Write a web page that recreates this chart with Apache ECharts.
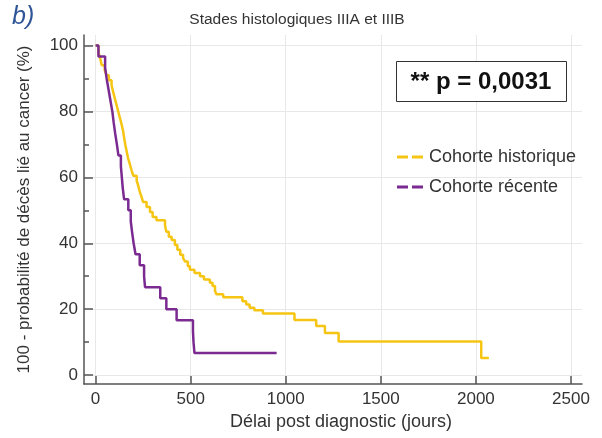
<!DOCTYPE html>
<html><head><meta charset="utf-8">
<script src="https://cdn.jsdelivr.net/npm/echarts@6/dist/echarts.min.js"></script>
<style>html,body{margin:0;padding:0;background:#fff}#c{width:602px;height:438px}</style>
</head><body><div id="c"></div>
<script>
const chartTitle = 'Stades histologiques IIIA et IIIB';
const xName = 'Délai post diagnostic (jours)';
const yName = '100 - probabilité de décès lié au cancer (%)';
const xTicks = [0, 500, 1000, 1500, 2000, 2500];
const yTicks = [0, 20, 40, 60, 80, 100];
const yMinorTicks = [10, 30, 50, 70, 90];
const seriesNames = ['Cohorte historique', 'Cohorte récente'];
const pText = '** p = 0,0031';
// [jours, survie %] — value after each drop
const historique = [[0,100],[15,98],[25,96],[32,94],[48,92.5],[58,91],[70,89.5],[84,88],[92,86],[101,84],[110,82],[119,80],[128,78],[137,76],[145,74],[150,72],[156,70],[163,68],[170,66],[180,64],[190,62],[198,60.5],[216,59],[224,57.5],[233,55.5],[242,54],[250,52.5],[268,51],[286,49.5],[300,48],[320,47],[365,45.5],[372,43.5],[385,42],[400,41],[417,39.5],[430,38],[445,36.5],[460,35.5],[470,34.5],[485,33],[496,32],[520,31],[549,30],[570,29],[601,28],[615,27],[628,25.5],[636,24.5],[671,23.6],[772,22.4],[792,21.4],[810,20.4],[835,19.7],[880,18.7],[1046,16.7],[1160,14.9],[1206,12.8],[1278,10.2],[2028,5.2],[2068,5.2]];
const recente = [[0,100],[15,96.67],[50,93.33],[58,90],[68,86.67],[78,83.33],[88,80],[95,76.67],[103,73.33],[112,70],[120,66.67],[133,63.33],[138,60],[143,56.67],[150,53.33],[172,50],[185,46.67],[192,43.33],[200,40],[210,36.67],[232,33.33],[255,30],[260,26.67],[340,23.33],[372,20],[426,16.67],[512,13.33],[515,10],[520,6.67],[952,6.67]];

const colors = ['#f6c514', '#7a2a90'];
const font = 'Liberation Sans, Arial, sans-serif';
const chart = echarts.init(document.getElementById('c'), null, {renderer:'canvas'});
chart.setOption({
  animation: false,
  color: colors,
  title: {text: chartTitle, left: 297, top: 12, textAlign: 'center', padding: 0,
    textStyle: {fontFamily: font, fontSize: 15.5, fontWeight: 'normal', color: '#333'}},
  grid: {left: 84, right: 20, top: 35, bottom: 54},
  legend: {
    left: 397, top: 147, orient: 'vertical', itemGap: 10, padding: 0,
    itemWidth: 28, itemHeight: 3,
    icon: 'path://M0,0H11V3H0Z M15,0H26V3H15Z',
    data: seriesNames,
    textStyle: {fontFamily: font, fontSize: 18, color: '#333', lineHeight: 20}
  },
  xAxis: {
    type: 'value', min: -61, max: 2558,
    name: xName, nameLocation: 'middle', nameGap: 22,
    nameTextStyle: {fontFamily: font, fontSize: 18, color: '#333', padding: [0, 0, 0, 16]},
    axisLine: {onZero: false, lineStyle: {color: '#555', width: 1.5}},
    axisTick: {inside: true, length: 8, customValues: xTicks, lineStyle: {color: '#555', width: 1.5}},
    axisLabel: {customValues: xTicks, formatter: v => String(v), fontFamily: font, fontSize: 17, color: '#333', margin: 7},
    splitLine: {show: true, lineStyle: {color: '#e8e8e8', width: 1}}
  },
  yAxis: [{
    type: 'value', min: -2.7, max: 103.2, position: 'left',
    name: yName, nameLocation: 'middle', nameGap: 51,
    nameTextStyle: {fontFamily: font, fontSize: 17, color: '#333'},
    axisLine: {show: true, onZero: false, lineStyle: {color: '#555', width: 1.5}},
    axisTick: {show: true, inside: true, length: 9, customValues: yTicks, lineStyle: {color: '#555', width: 1.5}},
    axisLabel: {customValues: yTicks, formatter: v => String(v), fontFamily: font, fontSize: 17, color: '#333', margin: 6},
    splitLine: {show: true, lineStyle: {color: '#e8e8e8', width: 1}}
  }, {
    type: 'value', min: -2.7, max: 103.2, position: 'left', offset: 0,
    axisLine: {show: false, onZero: false},
    axisTick: {show: true, inside: true, length: 5, customValues: yMinorTicks, lineStyle: {color: '#555', width: 1.5}},
    axisLabel: {show: false},
    splitLine: {show: false}
  }],
  series: [
    {name: seriesNames[0], type: 'line', step: 'end', data: historique, showSymbol: false,
      lineStyle: {width: 2.5, color: colors[0]}, itemStyle: {color: colors[0]}, z: 2},
    {name: seriesNames[1], type: 'line', step: 'end', data: recente, showSymbol: false,
      lineStyle: {width: 2.5, color: colors[1]}, itemStyle: {color: colors[1]}, z: 3}
  ],
  graphic: [
    {type: 'text', left: 12, top: 5, style: {text: 'b)', font: 'italic 25px Liberation Sans, Arial, sans-serif', fill: '#2f5597'}},
    {type: 'rect', shape: {x: 396.5, y: 61.5, width: 170, height: 40}, style: {fill: '#fff', stroke: '#333', lineWidth: 1}, z: 10},
    {type: 'text', x: 481, y: 82, z: 11, style: {text: pText, font: 'bold 24px Liberation Sans, Arial, sans-serif', fill: '#111', align: 'center', verticalAlign: 'middle'}}
  ]
});
</script></body></html>
